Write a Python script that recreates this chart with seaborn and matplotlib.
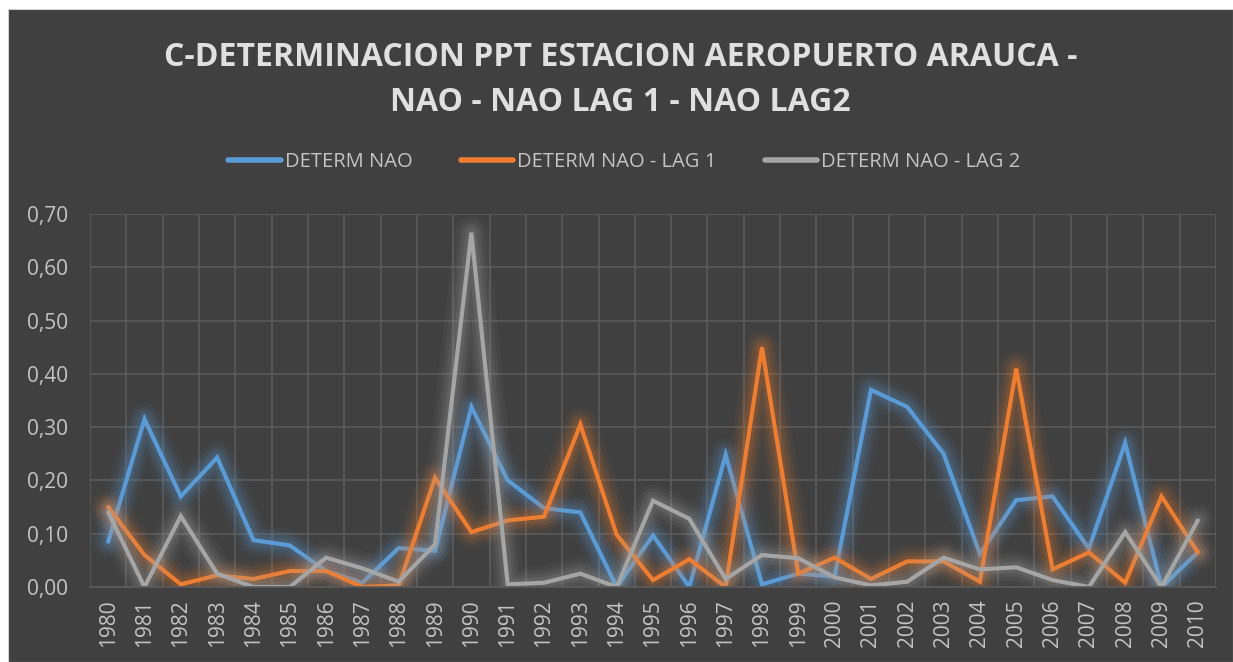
import matplotlib
matplotlib.use("Agg")
import matplotlib.pyplot as plt
import matplotlib.patheffects as pe
import matplotlib.patches as mpatches
from matplotlib.ticker import FixedLocator, FuncFormatter
import numpy as np
import pandas as pd
import seaborn as sns

years = list(range(1980, 2011))
determ_nao = [0.085, 0.315, 0.170, 0.243, 0.088, 0.078, 0.030, 0.008, 0.073, 0.068,
              0.338, 0.200, 0.148, 0.140, 0.000, 0.097, 0.000, 0.248, 0.005, 0.025,
              0.020, 0.370, 0.338, 0.250, 0.062, 0.163, 0.170, 0.072, 0.270, 0.000,
              0.065]
determ_lag1 = [0.150, 0.060, 0.005, 0.022, 0.015, 0.030, 0.030, 0.000, 0.003, 0.205,
               0.103, 0.125, 0.132, 0.305, 0.098, 0.013, 0.052, 0.000, 0.450, 0.025,
               0.055, 0.015, 0.048, 0.048, 0.010, 0.410, 0.033, 0.065, 0.008, 0.170,
               0.065]
determ_lag2 = [0.140, 0.000, 0.133, 0.025, 0.000, 0.000, 0.055, 0.035, 0.010, 0.080,
               0.665, 0.005, 0.008, 0.025, 0.000, 0.162, 0.128, 0.015, 0.060, 0.054,
               0.018, 0.003, 0.010, 0.055, 0.033, 0.037, 0.013, 0.000, 0.103, 0.000,
               0.125]
series_names = ["DETERM NAO", "DETERM NAO - LAG 1", "DETERM NAO - LAG 2"]
colors = ["#5B9BD5", "#ED7D31", "#A5A5A5"]
title = "C-DETERMINACION PPT ESTACION AEROPUERTO ARAUCA -\nNAO - NAO LAG 1 - NAO LAG2"

df = pd.concat([
    pd.DataFrame({"year": years, "value": vals, "series": name})
    for name, vals in zip(series_names, [determ_nao, determ_lag1, determ_lag2])
])

sns.set_theme(style="dark")
plt.rcParams['font.family'] = ['Open Sans', 'DejaVu Sans']

W, H = 1233, 662
fig = plt.figure(figsize=(W / 100, H / 100), dpi=100, facecolor="white")
bg = "#404040"
fig.patches.append(mpatches.Rectangle((8 / W, 0), 1 - 8 / W, 1 - 9 / H,
                                      transform=fig.transFigure, facecolor=bg,
                                      edgecolor="#d0d0d0", lw=0.8, zorder=-10))
ax = fig.add_axes([90 / W, (H - 587) / H, (1216 - 90) / W, (587 - 214) / H])
ax.set_facecolor(bg)

sns.lineplot(data=df, x="year", y="value", hue="series", palette=colors,
             hue_order=series_names, ax=ax, linewidth=3.0, legend=False)

for line, c in zip(ax.lines, colors):
    line.set_solid_joinstyle("miter")
    line.set_path_effects([
        pe.Stroke(linewidth=24, foreground=c, alpha=0.05, joinstyle="round", capstyle="round"),
        pe.Stroke(linewidth=18, foreground=c, alpha=0.08, joinstyle="round", capstyle="round"),
        pe.Stroke(linewidth=13, foreground=c, alpha=0.11, joinstyle="round", capstyle="round"),
        pe.Stroke(linewidth=8, foreground=c, alpha=0.14, joinstyle="round", capstyle="round"),
        pe.Normal(),
    ])

ax.set_xlim(1979.5, 2010.5)
ax.set_ylim(0, 0.70)
ax.set_yticks(np.arange(0, 0.71, 0.1))
ax.yaxis.set_major_formatter(FuncFormatter(lambda v, p: f"{v:.2f}".replace(".", ",")))
ax.set_xticks(years)
ax.set_xticklabels([str(y) for y in years], rotation=90)
ax.xaxis.set_minor_locator(FixedLocator(np.arange(1979.5, 2011, 1)))
ax.grid(False)
ax.grid(axis="y", which="major", color="#5a5a5a", lw=1.2)
ax.grid(axis="x", which="minor", color="#5a5a5a", lw=1.2)
ax.set_axisbelow(True)
for s in ["top", "right", "left"]:
    ax.spines[s].set_visible(False)
ax.spines["bottom"].set_color("#5a5a5a")
ax.tick_params(axis="both", which="both", length=0, colors="#c4c4c4", labelsize=15)
ax.tick_params(axis="x", pad=9)
ax.tick_params(axis="y", pad=16)
ax.set_xlabel("")
ax.set_ylabel("")

fig.text(0.5 + 4 / W, 1 - 80 / H, title, ha="center", va="center", fontsize=23,
         fontweight="bold", color="#e0e0e0", linespacing=1.45)

handles = [plt.Line2D([], [], color=c, lw=4) for c in colors]
fig.legend(handles, series_names, loc="center", bbox_to_anchor=(0.5 + 8 / W, 1 - 162 / H),
           ncol=3, frameon=False, fontsize=14.5, labelcolor="#c4c4c4",
           handlelength=2.6, handletextpad=0.2, columnspacing=2.4)

fig.savefig("out.png", dpi=100, facecolor="white")
